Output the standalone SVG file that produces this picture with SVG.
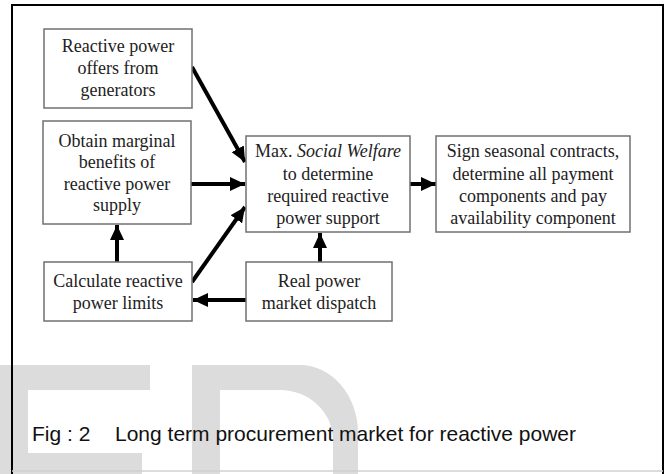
<svg xmlns="http://www.w3.org/2000/svg" width="667" height="474" viewBox="0 0 667 474">
<style>
.box{fill:#fff;stroke:#707070;stroke-width:1.5}
.t{font-family:"Liberation Serif","Times New Roman",serif;font-size:18px;fill:#222;text-anchor:middle}
.c{stroke:#000;stroke-width:4;fill:none;marker-end:url(#ah)}
.wm{fill:#dcdcdc}
</style>
<defs>
<marker id="ah" markerUnits="userSpaceOnUse" markerWidth="16" markerHeight="14" refX="15" refY="7" orient="auto">
<path d="M0,0 L15,7 L0,14 z" fill="#000"/>
</marker>
</defs>
<rect x="0" y="0" width="667" height="474" fill="#fff"/>
<g id="watermark">
<path class="wm" d="M0,365 H150 V390 H28 V453 H142 V474 H0 Z"/>
<path class="wm" fill-rule="evenodd" d="M192,365 H300 A58,68 0 0 1 358,433 L358,474 H192 Z M220,390 H280 A53,50 0 0 1 333,440 L333,474 H220 Z"/>
</g>
<path d="M12,474 V5 H663 V474" fill="none" stroke="#000" stroke-width="2"/>
<line x1="12" y1="471" x2="663" y2="471" stroke="#d0d0d0" stroke-width="1.5"/>
<g id="connectors">
<line class="c" x1="192" y1="67" x2="245" y2="162"/>
<line class="c" x1="190" y1="184" x2="245" y2="184"/>
<line class="c" x1="192" y1="282" x2="245" y2="207"/>
<line class="c" x1="117" y1="262" x2="117" y2="225"/>
<line class="c" x1="320" y1="262" x2="320" y2="233"/>
<line class="c" x1="246" y1="300" x2="193" y2="300"/>
<line class="c" x1="410" y1="184" x2="436" y2="184"/>
</g>
<g id="n1"><rect class="box" x="44" y="29" width="148" height="79"/>
<text class="t" x="118" y="52">Reactive power</text><text class="t" x="118" y="74">offers from</text><text class="t" x="118" y="96">generators</text></g>
<g id="n2"><rect class="box" x="43" y="121" width="148" height="103"/>
<text class="t" x="117" y="147">Obtain marginal</text><text class="t" x="117" y="168">benefits of</text><text class="t" x="117" y="190">reactive power</text><text class="t" x="117" y="211">supply</text></g>
<g id="n3"><rect class="box" x="44" y="262" width="148" height="59"/>
<text class="t" x="118" y="287">Calculate reactive</text><text class="t" x="118" y="309">power limits</text></g>
<g id="n4"><rect class="box" x="246" y="136" width="164" height="96"/>
<text class="t" x="328" y="157">Max. <tspan font-style="italic">Social Welfare</tspan></text><text class="t" x="328" y="180">to determine</text><text class="t" x="328" y="202">required reactive</text><text class="t" x="328" y="224">power support</text></g>
<g id="n5"><rect class="box" x="436" y="136" width="194" height="96"/>
<text class="t" x="533" y="157">Sign seasonal contracts,</text><text class="t" x="533" y="180">determine all payment</text><text class="t" x="533" y="202">components and pay</text><text class="t" x="533" y="224">availability component</text></g>
<g id="n6"><rect class="box" x="246" y="262" width="146" height="59"/>
<text class="t" x="319" y="287">Real power</text><text class="t" x="319" y="309">market dispatch</text></g>
<text x="32" y="441" font-family="Liberation Sans, Arial, sans-serif" font-size="21" fill="#111">Fig : 2<tspan x="115">Long term procurement market for reactive power</tspan></text>
</svg>
